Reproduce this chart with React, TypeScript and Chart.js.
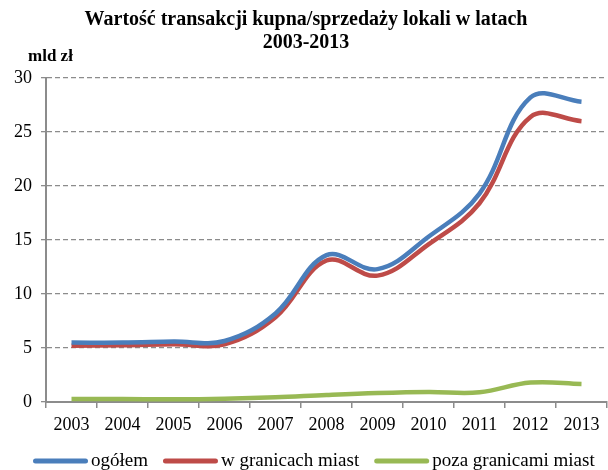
import React, { useEffect, useRef } from "react";
import { Chart, registerables } from "chart.js";

Chart.register(...registerables);

const years = ["2003", "2004", "2005", "2006", "2007", "2008", "2009", "2010", "2011", "2012", "2013"];
const ogolem = [5.5, 5.5, 5.6, 5.65, 8.2, 13.6, 12.3, 15.3, 19.3, 28.2, 27.8];
const wGranicachMiast = [5.2, 5.25, 5.35, 5.35, 7.85, 13.1, 11.7, 14.6, 18.4, 26.4, 26.0];
const pozaGranicamiMiast = [0.28, 0.28, 0.25, 0.3, 0.43, 0.65, 0.83, 0.93, 0.9, 1.8, 1.67];

const seriesNames = ["ogółem", "w granicach miast", "poza granicami miast"];
const seriesColors = ["#4A7EBB", "#BE4B48", "#98B954"];
const titleLines = ["Wartość transakcji kupna/sprzedaży lokali w latach", "2003-2013"];
const unitLabel = "mld zł";
const yMin = 0;
const yMax = 30;
const yStep = 5;

const FONT = '"Liberation Serif", "Times New Roman", serif';

const decorPlugin = {
  id: "decor",
  afterDraw(chart: any) {
    const ctx = chart.ctx as CanvasRenderingContext2D;
    ctx.save();
    ctx.fillStyle = "#000";
    ctx.textAlign = "center";
    ctx.textBaseline = "middle";
    ctx.font = `bold 20px ${FONT}`;
    ctx.fillText(titleLines[0], 306, 20);
    ctx.fillText(titleLines[1], 306, 43);

    ctx.font = `bold 17px ${FONT}`;
    ctx.textAlign = "left";
    ctx.fillText(unitLabel, 28, 57);

    ctx.font = `19px ${FONT}`;
    const lineLen = 55;
    const gapText = 3;
    const gapItem = 15;
    const widths = seriesNames.map((n) => ctx.measureText(n).width);
    let x = 33;
    const ly = 461;
    seriesNames.forEach((name, i) => {
      ctx.beginPath();
      ctx.strokeStyle = seriesColors[i];
      ctx.lineWidth = 5;
      ctx.lineCap = "round";
      ctx.moveTo(x + 2.5, ly);
      ctx.lineTo(x + lineLen - 2.5, ly);
      ctx.stroke();
      ctx.fillStyle = "#000";
      ctx.fillText(name, x + lineLen + gapText, ly);
      x += lineLen + gapText + widths[i] + gapItem;
    });
    ctx.restore();
  },
};

export default function App() {
  const ref = useRef<HTMLCanvasElement | null>(null);
  useEffect(() => {
    if (!ref.current) return;
    const data = [ogolem, wGranicachMiast, pozaGranicamiMiast];
    const chart = new Chart(ref.current, {
      type: "line",
      data: {
        labels: years,
        datasets: data.map((d, i) => ({
          label: seriesNames[i],
          data: d,
          borderColor: seriesColors[i],
          backgroundColor: seriesColors[i],
          borderWidth: 4.5,
          pointRadius: 0,
          tension: 0.38,
          fill: false,
        })),
      },
      options: {
        responsive: false,
        animation: false,
        layout: { padding: { top: 78, right: 1, left: 0, bottom: 0 } },
        plugins: {
          legend: { display: false },
          title: { display: false },
          tooltip: { enabled: false },
        },
        scales: {
          x: {
            offset: true,
            grid: { offset: true, drawOnChartArea: false, tickLength: 6, color: "#8c8c8c", lineWidth: 1.5 },
            border: { color: "#8c8c8c", width: 2 },
            ticks: { font: { family: FONT, size: 18 }, color: "#000", padding: 6, maxRotation: 0, autoSkip: false },
            afterFit: (s: any) => {
              s.height = 68;
            },
          },
          y: {
            min: yMin,
            max: yMax,
            ticks: { stepSize: yStep, font: { family: FONT, size: 18 }, color: "#000", padding: 9 },
            grid: { color: "#8c8c8c", lineWidth: 1.3, tickLength: 5, tickBorderDash: [] },
            border: { color: "#8c8c8c", width: 2, dash: [5, 3] },
            afterFit: (s: any) => {
              s.width = 46;
            },
          },
        },
      } as any,
      plugins: [decorPlugin],
    });
    return () => chart.destroy();
  }, []);
  return (
    <div style={{ position: "absolute", left: 0, top: 0, width: 608, height: 470, background: "#fff" }}>
      <canvas ref={ref} width={608} height={470} style={{ display: "block" }} />
    </div>
  );
}
